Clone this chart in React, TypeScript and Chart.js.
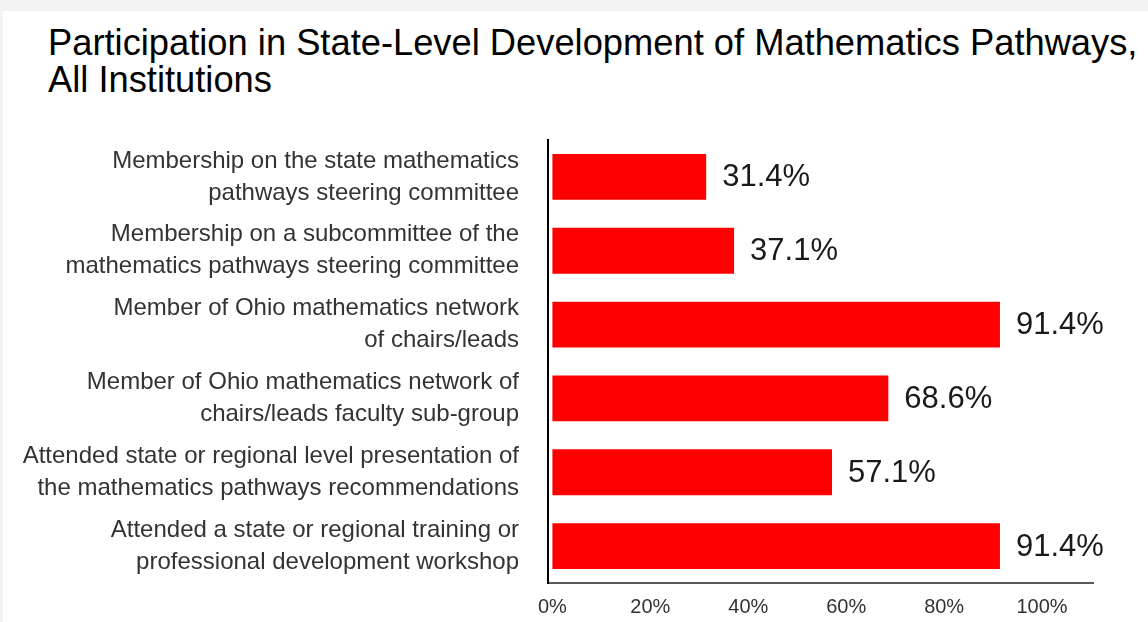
import React, { useEffect, useRef } from "react";
import { Chart, registerables } from "chart.js";

Chart.register(...registerables);

const titleLines: string[] = [
  "Participation in State-Level Development of Mathematics Pathways,",
  "All Institutions",
];

const categories: string[][] = [
  ["Membership on the state mathematics", "pathways steering committee"],
  ["Membership on a subcommittee of the", "mathematics pathways steering committee"],
  ["Member of Ohio mathematics network", "of chairs/leads"],
  ["Member of Ohio mathematics network of", "chairs/leads faculty sub-group"],
  ["Attended state or regional level presentation of", "the mathematics pathways recommendations"],
  ["Attended a state or regional training or", "professional development workshop"],
];

const values: number[] = [31.4, 37.1, 91.4, 68.6, 57.1, 91.4];

const xTicks: number[] = [0, 20, 40, 60, 80, 100];

const FONT = "'Liberation Sans', Arial, Helvetica, sans-serif";

const valueLabels = {
  id: "valueLabels",
  afterDatasetsDraw(chart: any) {
    const ctx = chart.ctx;
    const meta = chart.getDatasetMeta(0);
    ctx.save();
    ctx.font = `31px ${FONT}`;
    ctx.fillStyle = "#1a1a1a";
    ctx.textBaseline = "middle";
    ctx.textAlign = "left";
    meta.data.forEach((bar: any, i: number) => {
      ctx.fillText(values[i].toFixed(1) + "%", bar.x + 16, bar.y + 1);
    });
    ctx.restore();
  },
};

export default function App() {
  const canvasRef = useRef<HTMLCanvasElement | null>(null);

  useEffect(() => {
    const canvas = canvasRef.current;
    if (!canvas) return;
    const chart = new Chart(canvas, {
      type: "bar",
      data: {
        labels: categories,
        datasets: [
          {
            data: values,
            backgroundColor: "#ff0000",
            borderWidth: 0,
            barPercentage: 0.62,
            categoryPercentage: 1,
          },
        ],
      },
      options: {
        indexAxis: "y",
        responsive: false,
        animation: false,
        layout: { padding: { top: 140, right: 55, bottom: 0, left: 0 } },
        plugins: {
          legend: { display: false },
          tooltip: { enabled: false },
          title: { display: false },
        },
        scales: {
          x: {
            min: -0.9,
            max: 110.4,
            afterFit: (s: any) => {
              s.height = 39;
              s.paddingLeft = 0;
              s.paddingRight = 0;
            },
            grid: { display: false, drawTicks: false },
            border: { display: true, color: "#595959", width: 2 },
            ticks: {
              stepSize: 20,
              includeBounds: false,
              padding: 12,
              color: "#333333",
              autoSkip: false,
              maxRotation: 0,
              font: { family: FONT, size: 20 },
              callback: (v: any) => (xTicks.includes(Number(v)) ? v + "%" : null),
            },
          },
          y: {
            afterFit: (s: any) => {
              s.width = 548;
              s.paddingTop = 0;
              s.paddingBottom = 0;
            },
            grid: { display: false, drawTicks: false },
            border: { display: true, color: "#000000", width: 2 },
            ticks: {
              padding: 29,
              color: "#333333",
              autoSkip: false,
              font: { family: FONT, size: 24, lineHeight: 32 / 24 },
            },
          },
        },
      },
      plugins: [valueLabels],
    } as any);
    return () => chart.destroy();
  }, []);

  return (
    <div
      style={{
        position: "fixed",
        left: 0,
        top: 0,
        width: 1148,
        height: 622,
        background: "#f3f3f3",
        overflow: "hidden",
      }}
    >
      <div
        style={{
          position: "absolute",
          left: 3,
          top: 11,
          right: 0,
          bottom: 0,
          background: "#ffffff",
        }}
      />
      <div
        style={{
          position: "absolute",
          left: 48,
          top: 24,
          fontFamily: FONT,
          fontSize: 36.3,
          lineHeight: "37px",
          color: "#000000",
          whiteSpace: "nowrap",
        }}
      >
        {titleLines.map((t, i) => (
          <div key={i}>{t}</div>
        ))}
      </div>
      <canvas
        ref={canvasRef}
        width={1148}
        height={622}
        style={{ position: "absolute", left: 0, top: 0, width: 1148, height: 622 }}
      />
    </div>
  );
}
